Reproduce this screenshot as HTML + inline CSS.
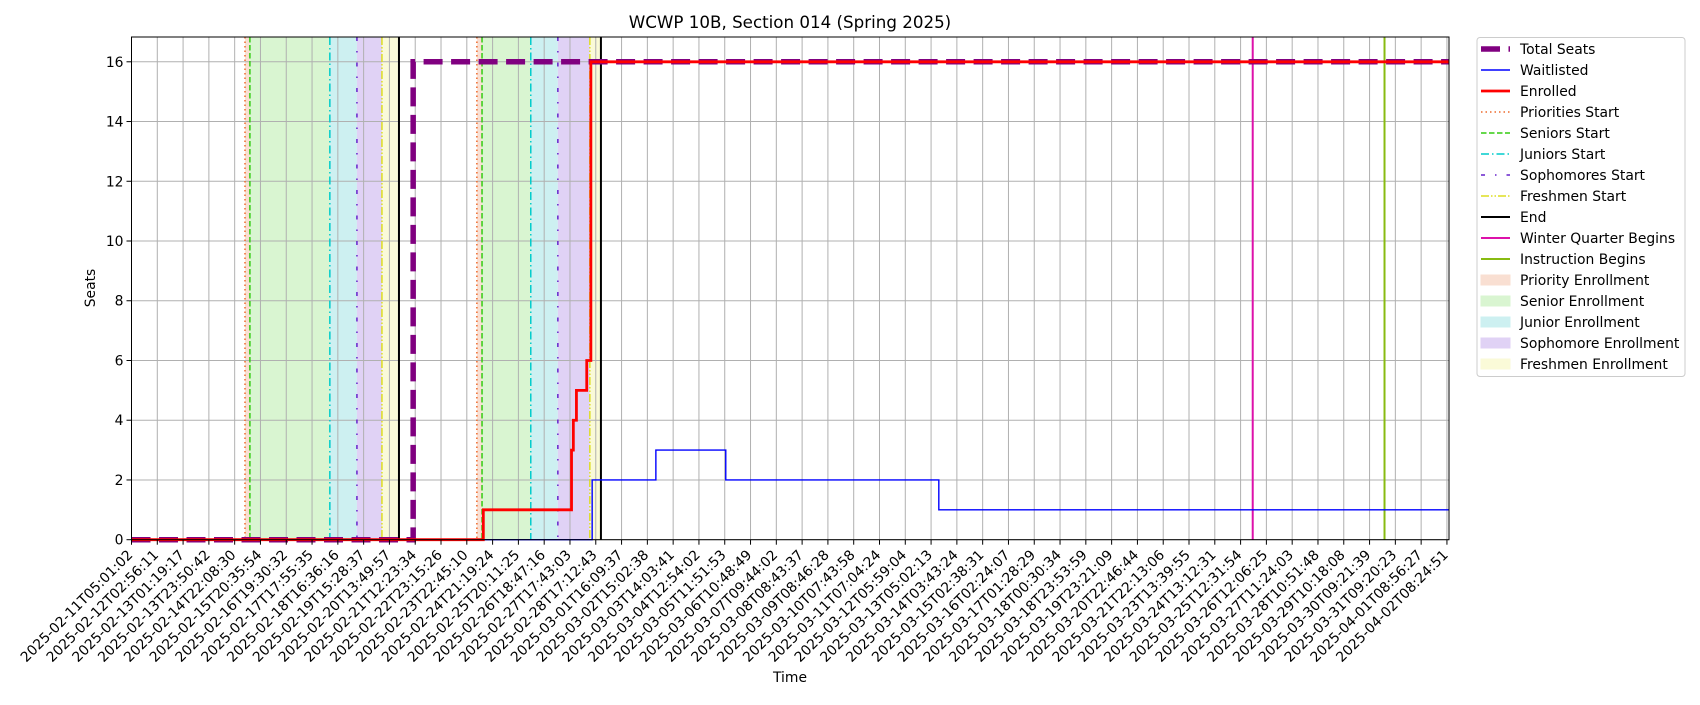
<!DOCTYPE html>
<html><head><meta charset="utf-8"><style>
body{margin:0;background:#fff}
svg{font-family:"DejaVu Sans","Liberation Sans",sans-serif}
</style></head><body>
<svg id="chart" width="1700" height="700" viewBox="0 0 1700 700" xmlns="http://www.w3.org/2000/svg">
<rect width="1700" height="700" fill="#fff"/>
<g id="spans"></g>
<g id="grid"></g>
<g id="vlines"></g>
<g id="series"></g>
<rect x="131.5" y="37" width="1317.5" height="502.7" fill="none" stroke="#000" stroke-width="1"/>
<g id="xaxis"></g>
<g id="yaxis"></g>
<text x="790" y="28" font-size="16.7" text-anchor="middle">WCWP 10B, Section 014 (Spring 2025)</text>
<text x="790" y="682" font-size="13.9" text-anchor="middle">Time</text>
<text transform="translate(95,288) rotate(-90)" font-size="13.9" text-anchor="middle">Seats</text>
<g id="legend"></g>
</svg>
<script>
const tickLabels=["2025-02-11T05:01:02","2025-02-12T02:56:11","2025-02-13T01:19:17","2025-02-13T23:50:42","2025-02-14T22:08:30","2025-02-15T20:35:54","2025-02-16T19:30:32","2025-02-17T17:55:35","2025-02-18T16:36:16","2025-02-19T15:28:37","2025-02-20T13:49:57","2025-02-21T12:23:34","2025-02-22T23:15:26","2025-02-23T22:45:10","2025-02-24T21:19:24","2025-02-25T20:11:25","2025-02-26T18:47:16","2025-02-27T17:43:03","2025-02-28T17:12:43","2025-03-01T16:09:37","2025-03-02T15:02:38","2025-03-03T14:03:41","2025-03-04T12:54:02","2025-03-05T11:51:53","2025-03-06T10:48:49","2025-03-07T09:44:02","2025-03-08T08:43:37","2025-03-09T08:46:28","2025-03-10T07:43:58","2025-03-11T07:04:24","2025-03-12T05:59:04","2025-03-13T05:02:13","2025-03-14T03:43:24","2025-03-15T02:38:31","2025-03-16T02:24:07","2025-03-17T01:28:29","2025-03-18T00:30:34","2025-03-18T23:53:59","2025-03-19T23:21:09","2025-03-20T22:46:44","2025-03-21T22:13:06","2025-03-23T13:39:55","2025-03-24T13:12:31","2025-03-25T12:31:54","2025-03-26T12:06:25","2025-03-27T11:24:03","2025-03-28T10:51:48","2025-03-29T10:18:08","2025-03-30T09:21:39","2025-03-31T09:20:23","2025-04-01T08:56:27","2025-04-02T08:24:51"];
const yTicks=[0,2,4,6,8,10,12,14,16];
// positions in tick-index units
const totalX=[0,10.92,51.08];
const totalY=[0,16,16];
const enrolledX=[0,13.64,17.06,17.13,17.25,17.65,17.81,51.08];
const enrolledY=[0,1,3,4,5,6,16,16];
const waitX=[0,17.86,20.33,23.04,31.3,51.08];
const waitY=[0,2,3,2,1,1];
// round starts: priority, senior, junior, sophomore, freshmen, end
const round1=[4.40,4.59,7.69,8.74,9.71,10.37];
const round2=[13.39,13.59,15.48,16.53,17.77,18.20];
const winterBegins=43.47;
const instructionBegins=48.58;

const X0=131.5,X1=1449,Y0=539.7,Y1=37,XMAX=51.08,YMAX=16.83;
const sx=v=>X0+v/XMAX*(X1-X0);
const sy=v=>Y0-v/YMAX*(Y0-Y1);
const NS="http://www.w3.org/2000/svg";
function mk(tag,attrs,parent){const e=document.createElementNS(NS,tag);for(const k in attrs)e.setAttribute(k,attrs[k]);parent.appendChild(e);return e;}
const G=id=>document.getElementById(id);

const spanFill=["#f9dfd2","#d9f5d1","#cdf0f1","#e0d2f5","#fafad8"];
const spanNames=["priority","senior","junior","sophomore","freshmen"];
[round1,round2].forEach((r,ri)=>{
  for(let i=0;i<5;i++){
    const e=mk('rect',{x:sx(r[i]),y:Y1,width:sx(r[i+1])-sx(r[i]),height:Y0-Y1,fill:spanFill[i]},G('spans'));
    
    
  }
});
tickLabels.forEach((t,i)=>{
  const x=sx(i);
  const gl=mk('line',{x1:x,x2:x,y1:Y1,y2:Y0,stroke:"#b0b0b0","stroke-width":1},G('grid'));
  
  
  const tk=mk('line',{x1:x,x2:x,y1:Y0,y2:Y0+5},G('xaxis'));tk.setAttribute('stroke','#000');
  
  
  const tx=mk('text',{transform:`translate(${x+2},${Y0+16}) rotate(-45)`,"font-size":"13.9","text-anchor":"end"},G('xaxis'));
  tx.textContent=t;
  
  
});
yTicks.forEach(v=>{
  const y=sy(v);
  const gl=mk('line',{x1:X0,x2:X1,y1:y,y2:y,stroke:"#b0b0b0","stroke-width":1},G('grid'));
  
  
  const tk=mk('line',{x1:X0-5,x2:X0,y1:y,y2:y,stroke:"#000"},G('yaxis'));
  
  
  const tx=mk('text',{x:X0-8,y:y+5,"font-size":"13.9","text-anchor":"end"},G('yaxis'));
  tx.textContent=v;
  
  
});
const vStyles=[
 {stroke:"#ee6a2c",w:1.5,d:"1.5,3"},
 {stroke:"#33cc11",w:1.5,d:"5.5,2.5"},
 {stroke:"#00cccc",w:1.5,d:"8,3,1.5,3"},
 {stroke:"#6622cc",w:1.5,d:"4,10,1.5,10"},
 {stroke:"#dddd22",w:1.5,d:"8,2,1.5,2,1.5,2"},
 {stroke:"#000",w:2,d:""}];
const vNames=["priorities-start","seniors-start","juniors-start","sophomores-start","freshmen-start","end"];
[round1,round2].forEach((r,ri)=>{
  r.forEach((v,i)=>{
    const s=vStyles[i];
    const e=mk('line',{x1:sx(v),x2:sx(v),y1:Y1,y2:Y0,stroke:s.stroke,"stroke-width":s.w},G('vlines'));
    if(s.d)e.setAttribute('stroke-dasharray',s.d);
    
    
  });
});
const wl=mk('line',{x1:sx(winterBegins),x2:sx(winterBegins),y1:Y1,y2:Y0,stroke:"#dd11aa","stroke-width":2},G('vlines'));


const il=mk('line',{x1:sx(instructionBegins),x2:sx(instructionBegins),y1:Y1,y2:Y0,stroke:"#88bb11","stroke-width":2},G('vlines'));



function stepPath(xs,ys){let d=`M${sx(xs[0])},${sy(ys[0])}`;for(let i=1;i<xs.length;i++){d+=` H${sx(xs[i])} V${sy(ys[i])}`;}return d;}
const tp=mk('path',{d:stepPath(totalX,totalY),fill:"none",stroke:"#800080","stroke-width":5.5,"stroke-dasharray":"19,8.5"},G('series'));


const wp=mk('path',{d:stepPath(waitX,waitY),fill:"none",stroke:"#0000ff","stroke-width":1.4},G('series'));


const ep=mk('path',{d:stepPath(enrolledX,enrolledY),fill:"none",stroke:"#ff0000","stroke-width":2.8},G('series'));



// legend
const L=G('legend');
const lb=mk('rect',{x:1477,y:37.5,width:208,height:339,rx:3,fill:"#fff","fill-opacity":0.8,stroke:"#cccccc"},L);


const entries=[
 ["Total Seats","line","#800080",5.5,"19,8.5"],
 ["Waitlisted","line","#0000ff",1.4,""],
 ["Enrolled","line","#ff0000",2.8,""],
 ["Priorities Start","line","#ee6a2c",1.5,"1.5,3"],
 ["Seniors Start","line","#33cc11",1.5,"5.5,2.5"],
 ["Juniors Start","line","#00cccc",1.5,"8,3,1.5,3"],
 ["Sophomores Start","line","#6622cc",1.5,"4,10,1.5,10"],
 ["Freshmen Start","line","#dddd22",1.5,"8,2,1.5,2,1.5,2"],
 ["End","line","#000",2,""],
 ["Winter Quarter Begins","line","#dd11aa",2,""],
 ["Instruction Begins","line","#88bb11",2,""],
 ["Priority Enrollment","patch","#f9dfd2"],
 ["Senior Enrollment","patch","#d9f5d1"],
 ["Junior Enrollment","patch","#cdf0f1"],
 ["Sophomore Enrollment","patch","#e0d2f5"],
 ["Freshmen Enrollment","patch","#fafad8"]];
entries.forEach((e,i)=>{
  const y=49+i*21;
  const g=mk('g',{},L);
  
  
  if(e[1]==="line"){
    const l=mk('line',{x1:1481,x2:1510,y1:y,y2:y,stroke:e[2],"stroke-width":e[3]},g);
    if(e[4])l.setAttribute('stroke-dasharray',e[4]);
  }else{
    mk('rect',{x:1481,y:y-5,width:29,height:10,fill:e[2],stroke:e[2]},g);
  }
  const t=mk('text',{x:1520,y:y+5,"font-size":"13.9"},g);
  t.textContent=e[0];
});
</script>
</body></html>
